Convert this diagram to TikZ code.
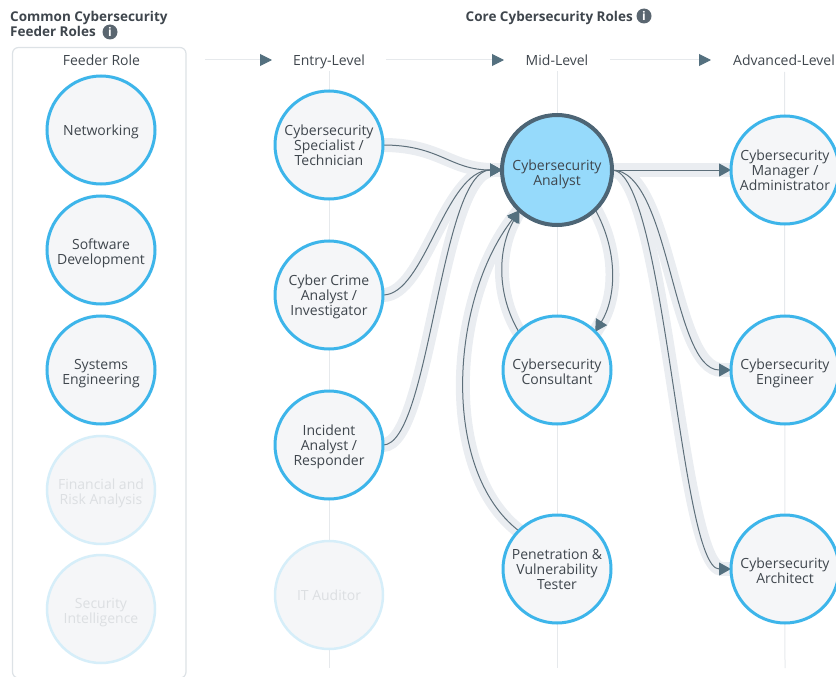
\documentclass[tikz,border=0pt]{standalone}
\usepackage{fontspec}
\setmainfont{Open Sans}
\usetikzlibrary{arrows.meta,backgrounds}
\definecolor{txt}{HTML}{3F464D}
\definecolor{dimtxt}{HTML}{DCDFE2}
\definecolor{ringblue}{HTML}{3DB5EA}
\definecolor{dimring}{HTML}{D6EEF9}
\definecolor{nodefill}{HTML}{F5F6F8}
\definecolor{hubfill}{HTML}{96DAFB}
\definecolor{hubring}{HTML}{4D6575}
\definecolor{bandc}{HTML}{EAEDF1}
\definecolor{linec}{HTML}{5D6F7A}
\definecolor{tipc}{HTML}{54707F}
\definecolor{guidec}{HTML}{E6E9EC}
\definecolor{panelc}{HTML}{DDE2E6}
\definecolor{infoc}{HTML}{5A6670}
\newcommand{\toprl}[1]{\rule{0pt}{#1pt}}
\newcommand{\botrl}{\rule[-3.5pt]{0pt}{3.5pt}}
\tikzset{
  x=1pt,y=-1pt,
  every node/.style={font=\fontsize{14}{15}\selectfont},
  role/.style={circle,draw=ringblue,line width=3pt,fill=nodefill,minimum size=108pt,inner sep=0pt,outer sep=0pt,align=center,text=txt},
  dimrole/.style={role,draw=dimring,line width=2.5pt,text=dimtxt},
  hub/.style={role,draw=hubring,fill=hubfill,line width=4pt,minimum size=110pt},
  head/.style={text=txt,inner sep=0pt,outer sep=0pt,execute at begin node={\vphantom{Ag}}},
  title/.style={text=txt,inner sep=0pt,align=left,font=\fontsize{13.5}{15}\selectfont\bfseries},
  info/.style={circle,fill=infoc,minimum size=15pt,inner sep=0pt,text=white,font=\fontsize{12}{12}\selectfont\bfseries},
  bandline/.style={draw=bandc,line width=14pt,-{Rectangle[length=12pt,width=14pt,color=bandc,fill=bandc]}},
  linkline/.style={draw=linec,line width=1pt,-{Triangle[length=12pt,width=13pt,color=tipc,fill=tipc]}},
  guide/.style={draw=guidec,line width=1pt},
  flow/.style={guide,-{Triangle[length=12pt,width=12pt,color=tipc,fill=tipc]}}
}
\begin{document}
\begin{tikzpicture}
\useasboundingbox (0,0) rectangle (836,677);
% titles
\node[title,anchor=north west] (feedertitle) at (10,11) {Common Cybersecurity\\Feeder Roles};
\node[info] (feederinfo) at (110,32) {i};
\node[title,anchor=west] (coretitle) at (465.5,17.5) {Core Cybersecurity Roles};
\node[info] (coreinfo) at (644,16) {i};
% panel
\draw[panelc,line width=1.2pt,rounded corners=6pt,fill=white] (12.5,47.5) rectangle (186,678);
% headings
\node[head] (hfeeder) at (101.5,62) {Feeder Role};
\node[head] (hentry) at (329,62) {Entry-Level};
\node[head] (hmid) at (557,62) {Mid-Level};
\node[head] (hadv) at (784,62) {Advanced-Level};
% roles
\node[role] (net) at (101,130) {\toprl{15}Networking\botrl};
\node[role] (soft) at (101,250) {\toprl{18}Software\\Development\botrl};
\node[role] (sys) at (101,370) {\toprl{18}Systems\\Engineering\botrl};
\node[dimrole] (fin) at (101,490) {\toprl{18}Financial and\\Risk Analysis\botrl};
\node[dimrole] (sec) at (101,609) {\toprl{18}Security\\Intelligence\botrl};
\node[role] (spec) at (329,145) {\toprl{15}Cybersecurity\\Specialist /\\Technician\botrl};
\node[role] (crime) at (329,295) {\toprl{15}Cyber Crime\\Analyst /\\Investigator\botrl};
\node[role] (inc) at (329,445) {\toprl{15}Incident\\Analyst /\\Responder\botrl};
\node[dimrole] (audit) at (329,595) {\toprl{15}IT Auditor\botrl};
\node[hub] (analyst) at (557,170) {\toprl{20}Cybersecurity\\Analyst\botrl};
\node[role] (consult) at (557,370) {\toprl{18}Cybersecurity\\Consultant\botrl};
\node[role] (pen) at (557,569) {\toprl{15}Penetration \&\\Vulnerability\\Tester\botrl};
\node[role] (mgr) at (785,170) {\toprl{15}Cybersecurity\\Manager /\\Administrator\botrl};
\node[role] (eng) at (785,370) {\toprl{18}Cybersecurity\\Engineer\botrl};
\node[role] (arch) at (785,569) {\toprl{18}Cybersecurity\\Architect\botrl};
% free ends
\coordinate (fe) at (101,665);
\coordinate (ee) at (329,668);
\coordinate (me) at (557,668);
\coordinate (ae) at (785,668);
\coordinate (s1) at (205,60);
\coordinate (t1) at (272,60);
\coordinate (s2) at (386,60);
\coordinate (t2) at (504,60);
\coordinate (s3) at (610,60);
\coordinate (t3) at (711,60);
\begin{scope}[on background layer]
\draw[guide] (hfeeder.south) ++(0,2) -- (fe);
\draw[guide] (hentry.south) ++(0,2) -- (ee);
\draw[guide] (hmid.south) ++(0,2) -- (me);
\draw[guide] (784.5,72) -- (ae);
\draw[flow] (s1) -- (t1);
\draw[flow] (s2) -- (t2);
\draw[flow] (s3) -- (t3);
\draw[bandline] (spec.east) .. controls (440,145) and (450,170) .. (analyst.west);
\draw[bandline] (crime.east) .. controls (425,295) and (445,170) .. (analyst.west);
\draw[bandline] (inc.east) .. controls (430,445) and (440,170) .. (analyst.west);
\draw[bandline] (pen.135) .. controls (440,470) and (450,300) .. (analyst.227);
\draw[bandline] (consult.135) .. controls (497,295) and (497,250) .. (analyst.227);
\draw[bandline] (analyst.-46) .. controls (620,255) and (615,300) .. (consult.45);
\draw[bandline] (analyst.east) -- (mgr.west);
\draw[bandline] (analyst.east) .. controls (670,170) and (672,370) .. (eng.west);
\draw[bandline] (analyst.east) .. controls (665,170) and (680,569) .. (arch.west);
\draw[linkline] (spec.east) .. controls (440,145) and (450,170) .. (analyst.west);
\draw[linkline] (crime.east) .. controls (425,295) and (445,170) .. (analyst.west);
\draw[linkline] (inc.east) .. controls (430,445) and (440,170) .. (analyst.west);
\draw[linkline] (pen.135) .. controls (440,470) and (450,300) .. (analyst.227);
\draw[linkline] (consult.135) .. controls (497,295) and (497,250) .. (analyst.227);
\draw[linkline] (analyst.-46) .. controls (620,255) and (615,300) .. (consult.45);
\draw[linkline] (analyst.east) -- (mgr.west);
\draw[linkline] (analyst.east) .. controls (670,170) and (672,370) .. (eng.west);
\draw[linkline] (analyst.east) .. controls (665,170) and (680,569) .. (arch.west);
\end{scope}
\end{tikzpicture}
\end{document}
